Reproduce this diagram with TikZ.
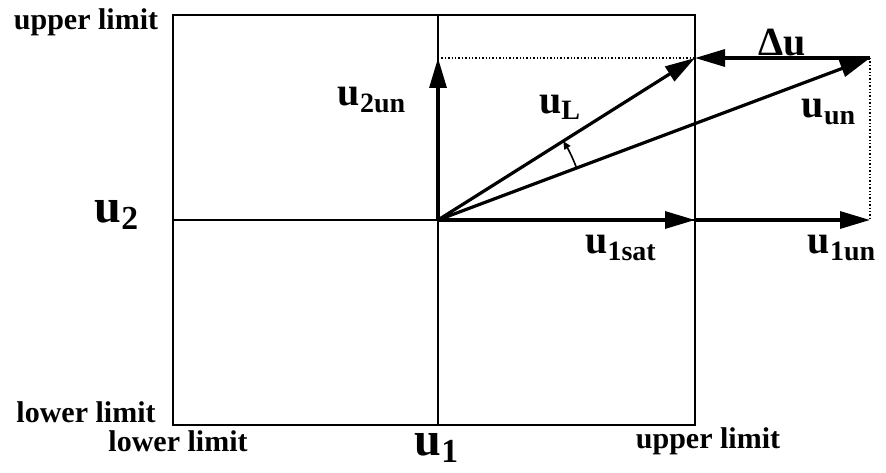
\documentclass[tikz,border=0pt]{standalone}
\usepackage{fontspec}
\setmainfont{Liberation Serif}
\usetikzlibrary{arrows.meta}

\begin{document}
\begin{tikzpicture}[x=0.5pt, y=0.5pt,
    every node/.style={inner sep=0pt},
    vec/.style={line width=1.6pt, -{Triangle[length=15pt,width=8.5pt]}},
    lim/.style={font=\fontsize{15}{18}\selectfont\bfseries},
    big/.style={font=\fontsize{24}{28}\selectfont\bfseries},
    lab/.style={font=\fontsize{20}{24}\selectfont\bfseries}]
  \useasboundingbox (0,0) rectangle (886,472);

  % points
  \def\xl{173}
  \def\xr{695}
  \def\yb{47}
  \def\yt{457}
  \coordinate (O) at (438,252);
  \coordinate (T) at (438,414);
  \coordinate (L) at (695,414);
  \coordinate (N) at (870,414);
  \coordinate (S) at (695,252);
  \coordinate (M) at (870,252);

  % frame and axes
  \draw[line width=1.2pt] (\xl,\yb) rectangle (\xr,\yt);
  \draw[line width=0.9pt] (438,\yb) -- (438,\yt);
  \draw[line width=0.9pt] (\xl,252) -- (\xr,252);

  % projections
  \draw[densely dotted, line width=0.7pt] (T) -- (L);
  \draw[densely dotted, line width=0.7pt] (N) -- (M);

  % vectors
  \draw[vec] (O) -- (T);
  \draw[vec] (O) -- (L);
  \draw[vec] (O) -- (N);
  \draw[vec] (O) -- (S);
  \draw[vec] (S) -- (M);
  \draw[vec] (N) -- (L);

  % angle
  \draw[line width=0.8pt, -{Triangle[length=4pt,width=3.5pt]}]
    ([shift={(20.6:148)}]O) arc (20.6:32.2:148);

  % limits
  \node[lim] (ulL) at (86,450) {upper limit};
  \node[lim] (llL) at (86,60) {lower limit};
  \node[lim] (llB) at (178,31) {lower limit};
  \node[lim] (ulB) at (708,31) {upper limit};

  % labels
  \node[big, anchor=south] (u1) at (437,9) {u\textsubscript{1}};
  \node[big] (u2) at (117,257) {u\textsubscript{2}};
  \node[lab] (u2un) at (372,372) {u\textsubscript{2un}};
  \node[lab] (uL) at (560,365) {u\textsubscript{L}};
  \node[lab] (uun) at (829,360) {u\textsubscript{un}};
  \node[lab] (du) at (782,429) {Δu};
  \node[lab] (u1sat) at (621,224) {u\textsubscript{1sat}};
  \node[lab] (u1un) at (842,224) {u\textsubscript{1un}};
\end{tikzpicture}
\end{document}
